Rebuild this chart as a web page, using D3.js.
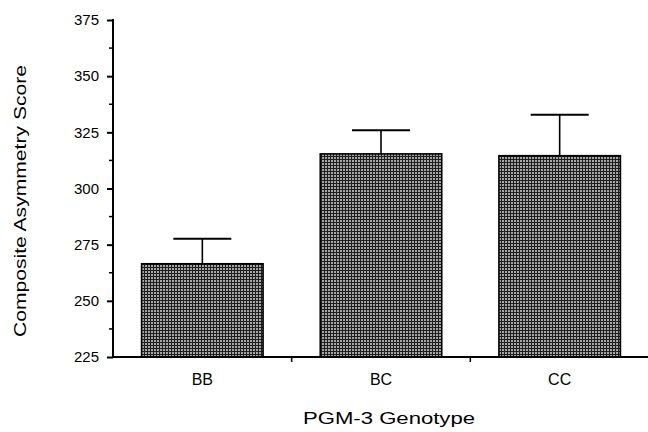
<!DOCTYPE html>
<html><head><meta charset="utf-8">
<script src="https://cdn.jsdelivr.net/npm/d3@7"></script>
<style>body{margin:0;background:#fff}svg{display:block}</style>
</head><body>
<svg id="c" width="648" height="432"></svg>
<script>
const categories = ["BB", "BC", "CC"];
const means = [266.5, 315.4, 314.6];
const upperErr = [277.6, 325.9, 332.8];
const yTicks = [225, 250, 275, 300, 325, 350, 375];

const svg = d3.select("#c");
const font = "'Liberation Sans', Arial, Helvetica, sans-serif";

const defs = svg.append("defs");
const pat = defs.append("pattern").attr("id","hatch").attr("patternUnits","userSpaceOnUse")
  .attr("width",3).attr("height",3);
pat.append("rect").attr("width",3).attr("height",3).attr("fill","#a6a6a6");
pat.append("rect").attr("x",0).attr("y",0).attr("width",3).attr("height",1).attr("fill","#1e1e1e");
pat.append("rect").attr("x",0).attr("y",0).attr("width",1).attr("height",3).attr("fill","#1e1e1e");

const x = d3.scaleBand().domain(categories).range([113, 649]).paddingInner(0.32).paddingOuter(0.16);
const y = d3.scaleLinear().domain([225, 375]).range([357, 20]);

// bars
svg.selectAll("rect.bar").data(categories).join("rect")
  .attr("class","bar")
  .attr("x", d => x(d))
  .attr("width", x.bandwidth())
  .attr("y", (d,i) => y(means[i]))
  .attr("height", (d,i) => y(225) - y(means[i]))
  .attr("fill","url(#hatch)")
  .attr("stroke","#000").attr("stroke-width",1.6);

// error bars
const capW = 58;
categories.forEach((d,i) => {
  const cx = x(d) + x.bandwidth()/2;
  svg.append("line").attr("x1",cx).attr("x2",cx).attr("y1",y(means[i])).attr("y2",y(upperErr[i]))
    .attr("stroke","#000").attr("stroke-width",1.6);
  svg.append("line").attr("x1",cx-capW/2).attr("x2",cx+capW/2).attr("y1",y(upperErr[i])).attr("y2",y(upperErr[i]))
    .attr("stroke","#000").attr("stroke-width",2);
});

// y axis
const yAxis = d3.axisLeft(y).tickValues(yTicks).tickSize(6).tickPadding(8);
const gy = svg.append("g").attr("transform","translate(113,0)").call(yAxis);
gy.select(".domain").attr("stroke-width",2).attr("d","M0,358V19");
gy.selectAll(".tick line").attr("stroke-width",2);
gy.selectAll(".tick text").attr("font-family",font).attr("font-size",15).attr("fill","#000");
// minor ticks
const minor = d3.range(237.5, 375, 25);
gy.selectAll(".minor").data(minor).join("line").attr("class","minor")
  .attr("x1",-4).attr("x2",0).attr("y1",d=>y(d)).attr("y2",d=>y(d))
  .attr("stroke","#000").attr("stroke-width",1.5);

// x axis
const gx = svg.append("g").attr("transform","translate(0,357)");
gx.append("line").attr("x1",112).attr("x2",648).attr("y1",0).attr("y2",0).attr("stroke","#000").attr("stroke-width",2);
const step = x.step();
[1,2].forEach(k => {
  const bx = x(categories[k]) - (step - x.bandwidth())/2;
  gx.append("line").attr("x1",bx).attr("x2",bx).attr("y1",0).attr("y2",5).attr("stroke","#000").attr("stroke-width",1.5);
});
gx.selectAll("text.cat").data(categories).join("text").attr("class","cat")
  .attr("x", d => x(d) + x.bandwidth()/2).attr("y", 28)
  .attr("text-anchor","middle").attr("font-family",font).attr("font-size",16).text(d=>d);

svg.append("text").attr("x",389).attr("y",424).attr("text-anchor","middle")
  .attr("font-family",font).attr("font-size",16)
  .attr("textLength",172).attr("lengthAdjust","spacingAndGlyphs").text("PGM-3 Genotype");
svg.append("text").attr("transform","translate(26,201) rotate(-90)").attr("text-anchor","middle")
  .attr("font-family",font).attr("font-size",16)
  .attr("textLength",272).attr("lengthAdjust","spacingAndGlyphs").text("Composite Asymmetry Score");
</script>
</body></html>
